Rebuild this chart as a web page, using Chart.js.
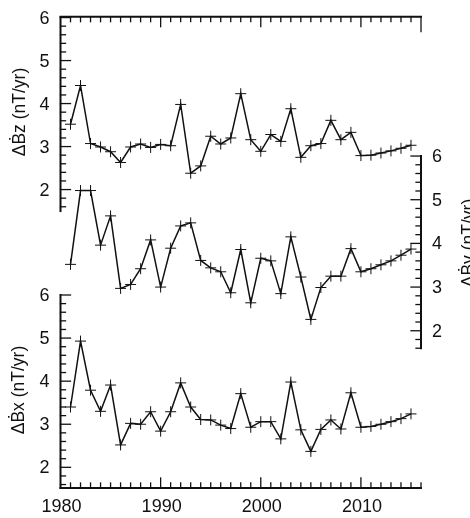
<!DOCTYPE html>
<html>
<head>
<meta charset="utf-8">
<script src="https://cdn.jsdelivr.net/npm/chart.js@4"></script>
<style>
    html, body { margin: 0; padding: 0; background: #fff; }
</style>
</head>
<body>
<canvas id="myChart" width="470" height="518"></canvas>
<script>
// data (nT/yr)
const years = [1981, 1982, 1983, 1984, 1985, 1986, 1987, 1988, 1989, 1990,
               1991, 1992, 1993, 1994, 1995, 1996, 1997, 1998, 1999, 2000,
               2001, 2002, 2003, 2004, 2005, 2006, 2007, 2008, 2009, 2010,
               2011, 2012, 2013, 2014, 2015];
const dBz = [3.52, 4.42, 3.07, 2.99, 2.88, 2.63, 2.99, 3.06, 2.98, 3.05,
             3.02, 3.98, 2.38, 2.55, 3.24, 3.06, 3.20, 4.23, 3.16, 2.89,
             3.28, 3.12, 3.88, 2.75, 3.02, 3.07, 3.61, 3.16, 3.33, 2.79,
             2.80, 2.85, 2.90, 2.96, 3.03];
const dBy = [3.52, 5.21, 5.21, 3.96, 4.63, 2.97, 3.06, 3.42, 4.08, 3.00,
             3.89, 4.40, 4.47, 3.61, 3.44, 3.35, 2.87, 3.86, 2.64, 3.66,
             3.60, 2.85, 4.15, 3.23, 2.26, 2.99, 3.25, 3.25, 3.88, 3.35,
             3.42, 3.51, 3.60, 3.73, 3.87];
const dBx = [3.40, 4.93, 3.79, 3.30, 3.91, 2.52, 3.02, 3.00, 3.29, 2.84,
             3.29, 3.96, 3.40, 3.11, 3.10, 2.98, 2.90, 3.71, 2.93, 3.06,
             3.06, 2.66, 3.98, 2.87, 2.37, 2.88, 3.10, 2.89, 3.73, 2.93,
             2.95, 3.00, 3.06, 3.13, 3.24];
const xTickLabels = [1980, 1990, 2000, 2010];
const yTickLabels = [2, 3, 4, 5, 6];
const titles = { z: 'ΔḂz (nT/yr)', y: 'ΔḂy (nT/yr)', x: 'ΔḂx (nT/yr)' };

const ink = '#111';
const tickFont = '18px "Liberation Sans", Arial, sans-serif';
const titleFont = '17.5px "Liberation Sans", Arial, sans-serif';

function series(values, axis) {
    return {
        data: years.map((yr, i) => ({ x: yr, y: values[i] })),
        yAxisID: axis,
        borderColor: ink,
        borderWidth: 1.5,
        tension: 0,
        pointStyle: 'cross',
        pointRadius: 5.5,
        pointBorderWidth: 1,
        pointBorderColor: ink,
        pointBackgroundColor: ink
    };
}

// axes are drawn by hand from the scales so the three stacked y axes can share one plot
const axesPlugin = {
    id: 'stackedAxes',
    afterDatasetsDraw(chart) {
        const c = chart.ctx;
        const sx = chart.scales.x;
        const area = chart.chartArea;
        const seg = (x1, y1, x2, y2) => { c.beginPath(); c.moveTo(x1, y1); c.lineTo(x2, y2); c.stroke(); };
        c.save();
        c.strokeStyle = ink;
        c.fillStyle = ink;
        c.lineCap = 'square';

        // top and bottom frame
        c.lineWidth = 2;
        seg(area.left, area.top, area.right, area.top);
        seg(area.left, area.bottom, area.right, area.bottom);
        c.lineWidth = 1.3;
        for (let yr = 1981; yr <= 2016; yr++) {
            const px = sx.getPixelForValue(yr);
            const len = yr % 10 === 0 ? 10 : 5;
            seg(px, area.bottom, px, area.bottom - len);
            seg(px, area.top, px, area.top + (yr === 2016 ? 15 : len));
        }
        c.font = tickFont;
        c.textAlign = 'center';
        c.textBaseline = 'middle';
        xTickLabels.forEach(v => c.fillText(String(v), sx.getPixelForValue(v) + 1, area.bottom + 19));

        // one vertical axis: spine, 0.2 ticks, labels
        function yAxis(scale, xPos, dir, bottomVal) {
            c.lineWidth = 2;
            seg(xPos, scale.getPixelForValue(6), xPos, Math.min(scale.getPixelForValue(bottomVal), area.bottom));
            c.lineWidth = 1.3;
            for (let i = 0; i <= 22; i++) {
                const v = 6 - i * 0.2;
                if (v < bottomVal - 0.01) break;
                const py = scale.getPixelForValue(v);
                const major = Math.abs(v - Math.round(v)) < 0.01;
                seg(xPos, py, xPos + dir * (major ? 10 : 5), py);
            }
            c.font = tickFont;
            c.textAlign = dir > 0 ? 'right' : 'left';
            c.textBaseline = 'middle';
            yTickLabels.forEach(v => c.fillText(String(v), xPos - dir * 11, scale.getPixelForValue(v) + 1));
        }
        yAxis(chart.scales.yZ, area.left, 1, 1.5);
        yAxis(chart.scales.yX, area.left, 1, 1.5);
        yAxis(chart.scales.yY, area.right, -1, 1.6);

        // rotated axis titles
        function title(text, x, y) {
            c.save();
            c.translate(x, y);
            c.rotate(-Math.PI / 2);
            c.font = titleFont;
            c.textAlign = 'center';
            c.textBaseline = 'alphabetic';
            c.fillText(text, 0, 0);
            c.restore();
        }
        title(titles.z, 24.5, 112);
        title(titles.x, 24, 390);
        title(titles.y, 474, 243);
        c.restore();
    }
};

const ctx = document.getElementById('myChart').getContext('2d');
const myChart = new Chart(ctx, {
    type: 'line',
    data: {
        datasets: [series(dBz, 'yZ'), series(dBy, 'yY'), series(dBx, 'yX')]
    },
    options: {
        responsive: false,
        animation: false,
        layout: { padding: { left: 60.5, right: 49, top: 16.7, bottom: 30 } },
        plugins: { legend: { display: false }, tooltip: { enabled: false } },
        scales: {
            x: { type: 'linear', min: 1980, max: 2016, display: false },
            yZ: { type: 'linear', min: -4.94, max: 6.02, display: false },
            yY: { type: 'linear', min: -1.6, max: 9.19, display: false },
            yX: { type: 'linear', min: 1.52, max: 12.46, display: false }
        }
    },
    plugins: [axesPlugin]
});
</script>
</body>
</html>
